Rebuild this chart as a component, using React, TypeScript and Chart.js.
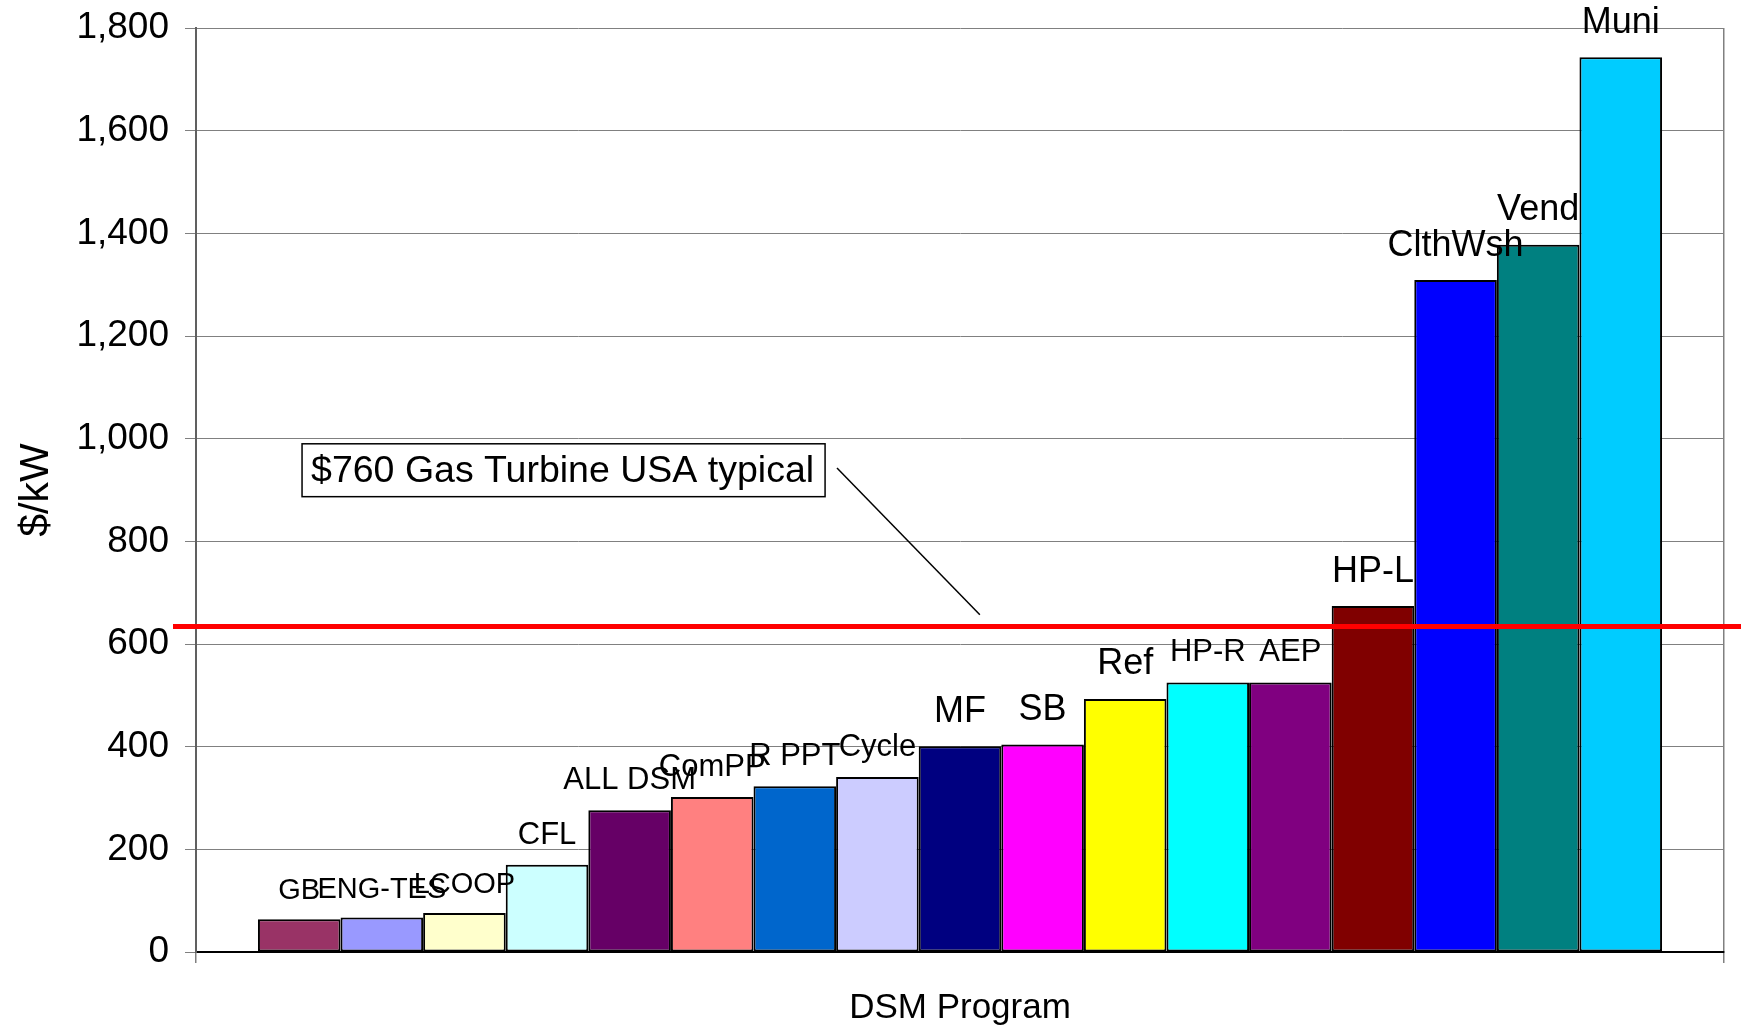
import React, { useEffect, useRef } from 'react';
import { Chart, registerables } from 'chart.js';

Chart.register(...registerables);

// ---- Data ----
const programs = ['GB', 'ENG-TES', 'LCOOP', 'CFL', 'ALL DSM', 'ComPP', 'R PPT', 'Cycle', 'MF', 'SB', 'Ref', 'HP-R', 'AEP', 'HP-L', 'ClthWsh', 'Vend', 'Muni'];
const costs = [64, 67, 76, 170, 276, 302, 323, 341, 401, 404, 493, 525, 525, 674, 1309, 1378, 1743];
const categoryLabels = [''];
const yTickValues = [0, 200, 400, 600, 800, 1000, 1200, 1400, 1600, 1800];
const gasTurbineLine = 634;
const gasTurbineNote = '$760 Gas Turbine USA typical';
const xTitle = 'DSM Program';
const yTitle = '$/kW';

// ---- Styles ----
const barColors = ['#993366', '#9999FF', '#FFFFCC', '#CCFFFF', '#660066', '#FF8080', '#0066CC', '#CCCCFF', '#000080', '#FF00FF', '#FFFF00', '#00FFFF', '#800080', '#800000', '#0000FF', '#008080', '#00CCFF'];
const labelFontSizes = [29, 29, 29, 31, 31, 31, 31, 31, 36, 36, 36, 31, 31, 36, 36, 36, 36];
const FONT = "'Liberation Sans', Arial, sans-serif";

// annotation placement (fractions of plot width, values on y scale)
const noteBox = { leftFrac: 0.0694, topValue: 990, bottomValue: 887, fontSize: 37.5 };
const noteLeader = { x1Frac: 0.4195, y1Value: 943, x2Frac: 0.513, y2Value: 657 };

const overlayPlugin = {
  id: 'overlay',
  afterDatasetsDraw(chart: any) {
    const { ctx, chartArea, scales } = chart;
    const y = scales.y;
    const w = chartArea.right - chartArea.left;
    ctx.save();

    // red reference line
    const ly = y.getPixelForValue(gasTurbineLine);
    ctx.strokeStyle = '#FF0000';
    ctx.lineWidth = 5;
    ctx.beginPath();
    ctx.moveTo(chartArea.left - 23, ly);
    ctx.lineTo(chartArea.right + 17, ly);
    ctx.stroke();

    // bar labels
    chart.data.datasets.forEach((ds: any, i: number) => {
      const meta = chart.getDatasetMeta(i);
      const el = meta.data[0];
      if (!el) return;
      const size = labelFontSizes[i];
      ctx.font = `${size}px ${FONT}`;
      ctx.fillStyle = '#000';
      ctx.textAlign = 'center';
      ctx.textBaseline = 'alphabetic';
      ctx.fillText(ds.label, el.x, el.y - size * 0.68);
    });

    // annotation box
    ctx.font = `${noteBox.fontSize}px ${FONT}`;
    const tw = ctx.measureText(gasTurbineNote).width;
    const bx = chartArea.left + noteBox.leftFrac * w;
    const bt = y.getPixelForValue(noteBox.topValue);
    const bb = y.getPixelForValue(noteBox.bottomValue);
    const bw = tw + 20;
    ctx.fillStyle = '#fff';
    ctx.fillRect(bx, bt, bw, bb - bt);
    ctx.strokeStyle = '#000';
    ctx.lineWidth = 1.5;
    ctx.strokeRect(bx, bt, bw, bb - bt);
    ctx.fillStyle = '#000';
    ctx.textAlign = 'left';
    ctx.textBaseline = 'middle';
    ctx.fillText(gasTurbineNote, bx + 9, (bt + bb) / 2 + 1);

    // leader line
    ctx.lineWidth = 1.5;
    ctx.beginPath();
    ctx.moveTo(chartArea.left + noteLeader.x1Frac * w, y.getPixelForValue(noteLeader.y1Value));
    ctx.lineTo(chartArea.left + noteLeader.x2Frac * w, y.getPixelForValue(noteLeader.y2Value));
    ctx.stroke();

    ctx.restore();
  },
};

export default function App() {
  const canvasRef = useRef<HTMLCanvasElement | null>(null);

  useEffect(() => {
    if (!canvasRef.current) return;
    Chart.defaults.font.family = FONT;
    Chart.defaults.color = '#000';
    const datasets = programs.map((p, i) => ({
      label: p,
      data: [costs[i]],
      backgroundColor: barColors[i],
      borderColor: '#000',
      borderWidth: 2,
      borderSkipped: false as any,
      categoryPercentage: 17 / 18.5,
      barPercentage: 1,
    }));
    const chart = new Chart(canvasRef.current, {
      type: 'bar',
      data: { labels: categoryLabels, datasets },
      options: {
        animation: false,
        responsive: true,
        maintainAspectRatio: false,
        layout: { padding: { top: 28, right: 22, left: 0, bottom: 0 } },
        plugins: {
          legend: { display: false },
          tooltip: { enabled: false },
        },
        scales: {
          x: {
            grid: { color: '#808080', lineWidth: 1.5, tickLength: 11, offset: true },
            border: { color: '#000', width: 2 },
            ticks: { display: true, font: { size: 10 } },
            title: { display: true, text: xTitle, font: { size: 35, lineHeight: 1.1 }, color: '#000', padding: { top: 0, bottom: 0 } },
            afterFit: (scale: any) => { scale.height = 76; scale.paddingLeft = 0; scale.paddingRight = 0; },
          },
          y: {
            min: 0,
            max: 1800,
            afterBuildTicks: (scale: any) => { scale.ticks = yTickValues.map((v) => ({ value: v })); },
            grid: { color: '#808080', lineWidth: 1, tickLength: 11 },
            border: { color: '#606060', width: 2 },
            ticks: {
              font: { size: 37 },
              color: '#000',
              padding: 16,
              callback: (v: any) => Number(v).toLocaleString('en-US'),
            },
            title: { display: true, text: yTitle, font: { size: 41 }, color: '#000', padding: { top: 12, bottom: 0 } },
            afterFit: (scale: any) => { scale.width = 196; scale.paddingTop = 0; scale.paddingBottom = 0; },
          },
        },
      },
      plugins: [overlayPlugin],
    });
    return () => chart.destroy();
  }, []);

  return (
    <div style={{ position: 'fixed', left: 0, top: 0, width: 1746, height: 1028, background: '#fff' }}>
      <canvas ref={canvasRef} />
    </div>
  );
}
